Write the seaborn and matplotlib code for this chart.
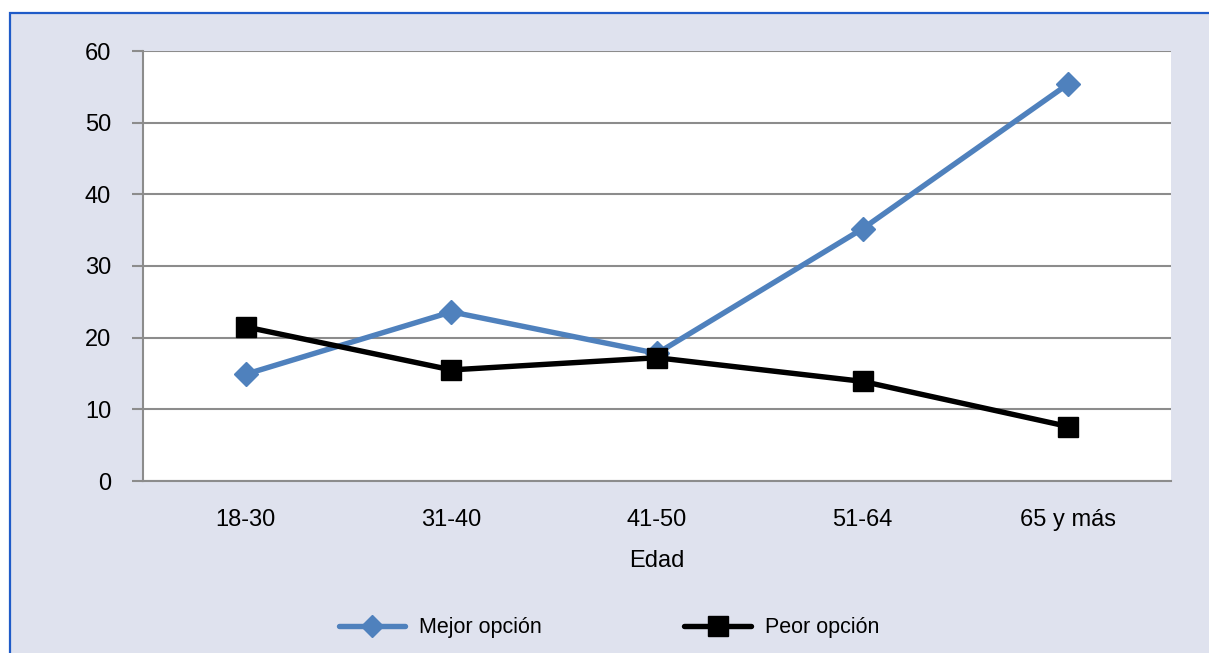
import matplotlib
matplotlib.use("Agg")
import matplotlib.pyplot as plt
import matplotlib.patches as patches
import seaborn as sns
import pandas as pd

edad = ["18-30", "31-40", "41-50", "51-64", "65 y más"]
mejor = [14.9, 23.6, 17.8, 35.2, 55.4]
peor = [21.5, 15.5, 17.2, 13.9, 7.6]

df = pd.DataFrame({"Edad": edad, "Mejor opción": mejor, "Peor opción": peor})
df = df.melt(id_vars="Edad", var_name="Serie", value_name="Valor")

sns.set_style("white")
plt.rcParams["font.family"] = ["Liberation Sans", "DejaVu Sans"]
plt.rcParams["text.color"] = "black"
plt.rcParams["xtick.labelcolor"] = "black"
plt.rcParams["ytick.labelcolor"] = "black"
plt.rcParams["axes.labelcolor"] = "black"

colores = {"Mejor opción": "#4F81BD", "Peor opción": "black"}

fig = plt.figure(figsize=(12.09, 6.53), dpi=100)
fig.patch.set_facecolor("white")
# panel de fondo con borde azul
fig.patches.append(patches.Rectangle((10 / 1209, -0.05), 1.0, (653 - 13) / 653 + 0.05,
                                     transform=fig.transFigure, facecolor="#DFE2EE",
                                     edgecolor="#1F5BC8", linewidth=1.6, zorder=-1))

ax = fig.add_axes([143 / 1209, (653 - 481) / 653, (1171 - 143) / 1209, (481 - 51) / 653])
ax.set_facecolor("white")

sns.lineplot(data=df, x="Edad", y="Valor", hue="Serie", style="Serie",
             palette=colores,
             markers={"Mejor opción": "D", "Peor opción": "s"},
             dashes=False, linewidth=3.9, markeredgewidth=1,
             markersize=13, ax=ax, zorder=3)
for line in ax.lines:
    line.set_markeredgecolor(line.get_color())
    if line.get_marker() == "D":
        line.set_markersize(12)
    else:
        line.set_markersize(15)

ax.set_ylim(0, 60)
ax.set_yticks(range(0, 61, 10))
ax.set_xlim(-0.5, 4.5)
ax.set_xticks(range(len(edad)))
ax.set_xticklabels(edad)
ax.set_xticks([i - 0.5 for i in range(len(edad) + 1)], minor=True)
ax.tick_params(axis="x", which="major", length=0, pad=20, labelsize=17, labelcolor="black")
ax.tick_params(axis="x", which="minor", length=7, width=1.5, color="#8C8C8C", direction="out")
ax.tick_params(axis="y", length=8, width=1.5, color="#8C8C8C", pad=15, labelsize=17,
               direction="out", left=True, labelcolor="black")
ax.yaxis.grid(True, color="#8C8C8C", linewidth=1.5)
ax.set_axisbelow(True)
for s in ["top", "right"]:
    ax.spines[s].set_visible(False)
for s in ["left", "bottom"]:
    ax.spines[s].set_color("#8C8C8C")
    ax.spines[s].set_linewidth(1.5)
ax.set_ylabel("")
ax.set_xlabel("Edad", fontsize=17, labelpad=14, color="black")

handles, labels = ax.get_legend_handles_labels()
for h in handles:
    h.set_markeredgecolor(h.get_color())
leg = ax.legend(handles, labels, loc="center", bbox_to_anchor=(609 / 1209, 25 / 653),
                bbox_transform=fig.transFigure, ncol=2, frameon=False, fontsize=15.5,
                handlelength=3.1, handletextpad=0.65, columnspacing=6.6, markerscale=0.95)
for t in leg.get_texts():
    t.set_color("black")

fig.savefig("out.png", dpi=100, facecolor=fig.get_facecolor())
